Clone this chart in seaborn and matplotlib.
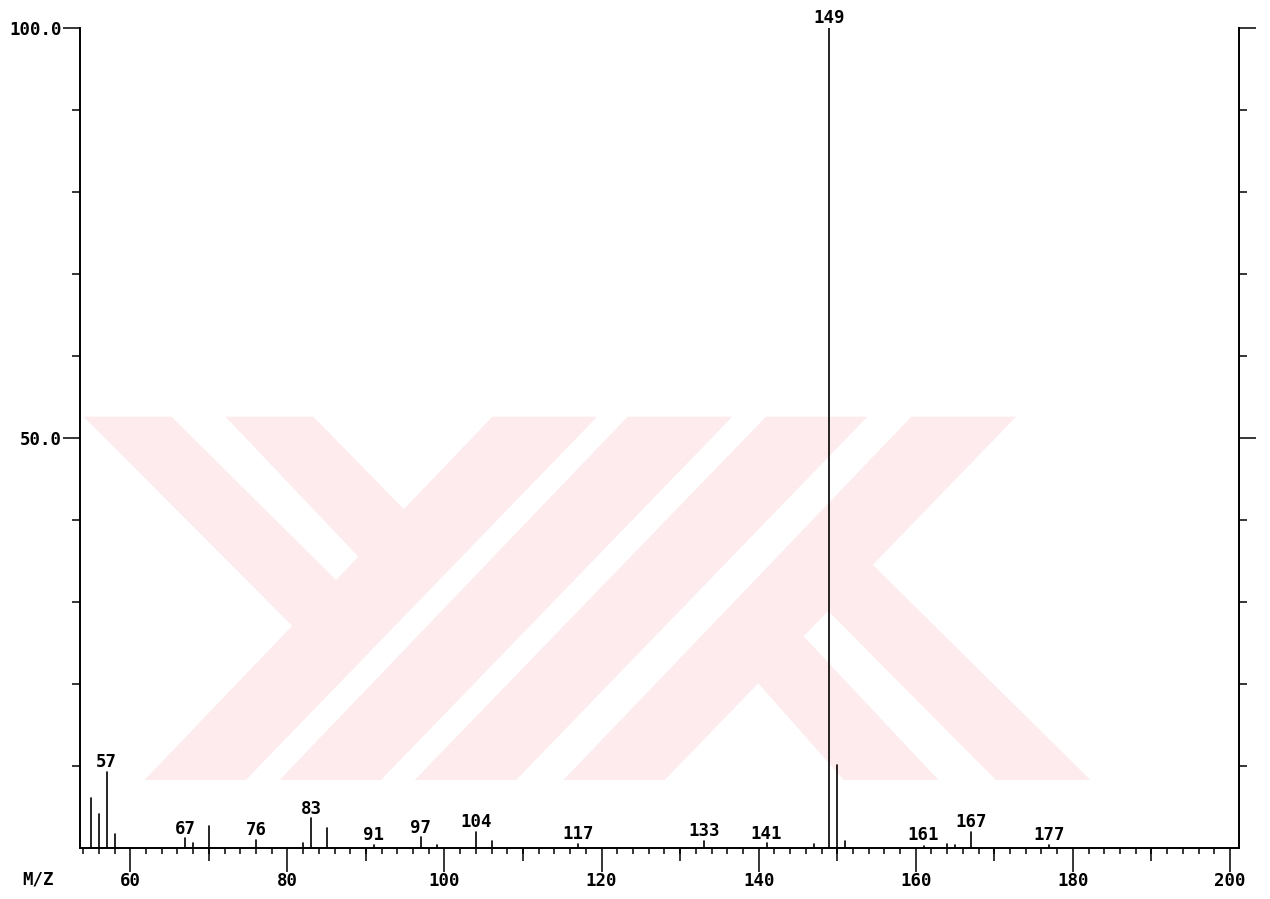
import matplotlib
matplotlib.use("Agg")
import matplotlib.pyplot as plt
from matplotlib.patches import Polygon
from matplotlib.ticker import FixedLocator, NullFormatter
import numpy as np
import pandas as pd
import seaborn as sns

# Mass spectrum: m/z of each peak and its relative intensity (%)
mz_values = [55, 56, 57, 58, 67, 68, 70, 76, 82, 83, 85, 91, 97, 99, 104, 106,
             117, 133, 141, 147, 149, 150, 151, 161, 164, 165, 167, 177]
intensities = [6.1, 4.1, 9.3, 1.7, 1.2, 0.6, 2.7, 1.0, 0.6, 3.6, 2.5, 0.4, 1.3, 0.4, 2.0, 0.8,
               0.5, 0.9, 0.6, 0.5, 100.0, 10.1, 0.8, 0.3, 0.5, 0.4, 2.0, 0.4]
# peaks that carry an m/z annotation
labelled_mz = [57, 67, 76, 83, 91, 97, 104, 117, 133, 141, 149, 161, 167, 177]

x_ticks = [60, 80, 100, 120, 140, 160, 180, 200]
x_mid_ticks = [70, 90, 110, 130, 150, 170, 190]
y_ticks = [50, 100]
y_tick_labels = ["50.0", "100.0"]
x_axis_title = "M/Z"

sns.set_theme(style="ticks")
plt.rcParams["font.family"] = ["DejaVu Sans Mono", "DejaVu Sans"]
plt.rcParams["font.weight"] = "bold"

W, H = 1270, 899
fig = plt.figure(figsize=(W / 100, H / 100), dpi=100)
fig.patch.set_facecolor("white")

# light background watermark of diagonal bands
wm_color = "#fdebee"
bands = [
    [(83.6, 416.7), (171.5, 416.7), (340.0, 584.0), (330.0, 640.0), (293.0, 626.7)],
    [(225.5, 416.7), (313.4, 416.7), (404.6, 510.0), (380.0, 560.0), (358.4, 556.7)],
    [(144.5, 780), (245.8, 780), (597.2, 416.7), (492.4, 416.7)],
    [(279.6, 780), (380.9, 780), (732.3, 416.7), (627.6, 416.7)],
    [(414.7, 780), (516.1, 780), (867.4, 416.7), (766.0, 416.7)],
    [(563.4, 780), (664.7, 780), (1016.1, 416.7), (911.4, 416.7)],
    [(758.3, 683.3), (745.0, 650.0), (804.0, 636.7), (938.4, 780), (843.8, 780)],
    [(828.2, 611.0), (860.0, 560.0), (873.0, 565.0), (1090.4, 780), (995.8, 780)],
]
for b in bands:
    pts = [(x / W, 1 - y / H) for x, y in b]
    fig.add_artist(Polygon(pts, closed=True, transform=fig.transFigure,
                           facecolor=wm_color, edgecolor="none", zorder=-5))

left, right, bottom, top = 80, 1239, 848, 28
ax = fig.add_axes([left / W, (H - bottom) / H, (right - left) / W, (bottom - top) / H])
ax.patch.set_visible(False)

# stems drawn as two-point lines per peak
rows = []
for i, (m, h) in enumerate(zip(mz_values, intensities)):
    rows.append({"peak": i, "mz": m, "intensity": 0.0})
    rows.append({"peak": i, "mz": m, "intensity": h})
df = pd.DataFrame(rows)
sns.lineplot(data=df, x="mz", y="intensity", units="peak", estimator=None,
             sort=False, color="black", lw=1.2, ax=ax, legend=False)

ax.set_xlim(53.6, 201.15)
ax.set_ylim(0, 100)
ax.set_xlabel("")
ax.set_ylabel("")

for m, h in zip(mz_values, intensities):
    if m in labelled_mz:
        ax.text(m, max(h, 0.4) + 0.55, str(m), ha="center", va="baseline",
                fontsize=12.5, fontweight="bold", color="black", clip_on=False)

# spines
ax.spines["top"].set_visible(False)
for s in ("left", "right", "bottom"):
    ax.spines[s].set_visible(True)
    ax.spines[s].set_color("black")
    ax.spines[s].set_linewidth(1.4)

# y axis: ticks on both sides, labels on the left
ax.yaxis.set_ticks_position("both")
ax.set_yticks(y_ticks)
ax.set_yticklabels(y_tick_labels, fontweight="bold")
ax.yaxis.set_minor_locator(FixedLocator([10, 20, 30, 40, 60, 70, 80, 90]))
ax.tick_params(axis="y", which="major", direction="out", length=12, width=1.1,
               colors="black", labelsize=12.5, pad=1, left=True, right=True,
               labelleft=True, labelright=False)
ax.tick_params(axis="y", which="minor", direction="out", length=6, width=1.1,
               colors="black", left=True, right=True)

# x axis: long labelled ticks every 20, short ticks every 2
ax.set_xticks(x_ticks)
ax.set_xticklabels([str(t) for t in x_ticks], fontweight="bold")
ax.xaxis.set_minor_locator(FixedLocator(list(range(54, 202, 2))))
ax.tick_params(axis="x", which="major", direction="out", length=17, width=1.1,
               colors="black", labelsize=12.5, pad=0, bottom=True, top=False)
ax.tick_params(axis="x", which="minor", direction="out", length=4, width=1.1,
               colors="black", bottom=True, top=False)

sec = ax.secondary_xaxis("bottom")
sec.set_xticks(x_mid_ticks)
sec.xaxis.set_major_formatter(NullFormatter())
sec.spines["bottom"].set_visible(False)
sec.tick_params(axis="x", which="major", direction="out", length=9, width=1.1,
                colors="black")
sec.tick_params(axis="x", which="minor", bottom=False)

fig.text(22 / W, 1 - 880 / H, x_axis_title, ha="left", va="center",
         fontsize=12.5, fontweight="bold", color="black")

fig.savefig("out.png", dpi=100, facecolor="white")
